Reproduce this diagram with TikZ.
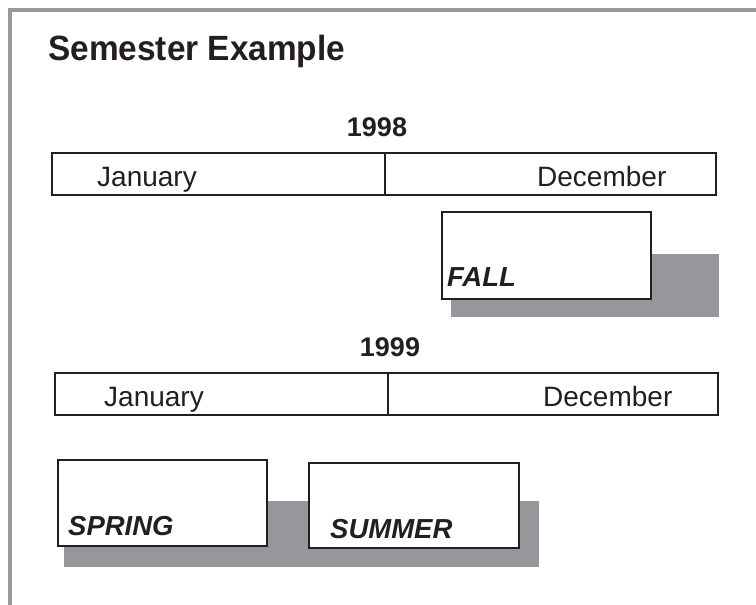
\documentclass[tikz,border=0pt]{standalone}
\usepackage{fontspec}
\setmainfont{Liberation Sans}
\definecolor{ink}{RGB}{35,31,32}
\definecolor{shade}{RGB}{150,151,155}
\definecolor{framegray}{RGB}{152,153,158}
\tikzset{
  box/.style={draw=ink, line width=2pt, fill=white},
  tline/.style={draw=ink, line width=1.8pt},
  shadowbox/.style={fill=shade, draw=none},
  month/.style={anchor=base west, inner sep=0pt, text=ink, font=\fontsize{28}{30}\selectfont},
  year/.style={anchor=base, inner sep=0pt, text=ink, font=\fontsize{27}{30}\selectfont\bfseries},
  sem/.style={anchor=base west, inner sep=0pt, text=ink, font=\fontsize{27.5}{30}\selectfont\bfseries\itshape},
}
\begin{document}
\begin{tikzpicture}[x=1pt,y=-1pt]
\useasboundingbox (0,0) rectangle (756,605);
\fill[white] (0,0) rectangle (756,605);
% frame
\draw[framegray, line width=4pt] (10,605) -- (10,10) -- (756,10);
% title
\node[anchor=base west, inner sep=0pt, text=ink, yscale=1.05, font=\fontsize{33.4}{36}\selectfont\bfseries] (title) at (48,60) {Semester Example};
% 1998
\node[year] (y98) at (377,136) {1998};
\draw[tline] (52,153) rectangle (716,195);
\draw[tline] (385,153) -- (385,195);
\node[month] (jan98) at (97,186) {January};
\node[month] (dec98) at (537,186) {December};
% FALL
\fill[shadowbox] (451,254) rectangle (719,317);
\draw[box] (442,212) rectangle (651,299);
\node[sem] (fall) at (447,286) {FALL};
% 1999
\node[year] (y99) at (390,356) {1999};
\draw[tline] (55,373) rectangle (718,415);
\draw[tline] (388,373) -- (388,415);
\node[month] (jan99) at (104,406) {January};
\node[month] (dec99) at (543,406) {December};
% SPRING / SUMMER
\fill[shadowbox] (64,501) rectangle (539,567);
\draw[box] (58,460) rectangle (267,546);
\draw[box] (309,463) rectangle (519,548);
\node[sem] (spring) at (68,535) {SPRING};
\node[sem] (summer) at (330,538) {SUMMER};
\end{tikzpicture}
\end{document}
